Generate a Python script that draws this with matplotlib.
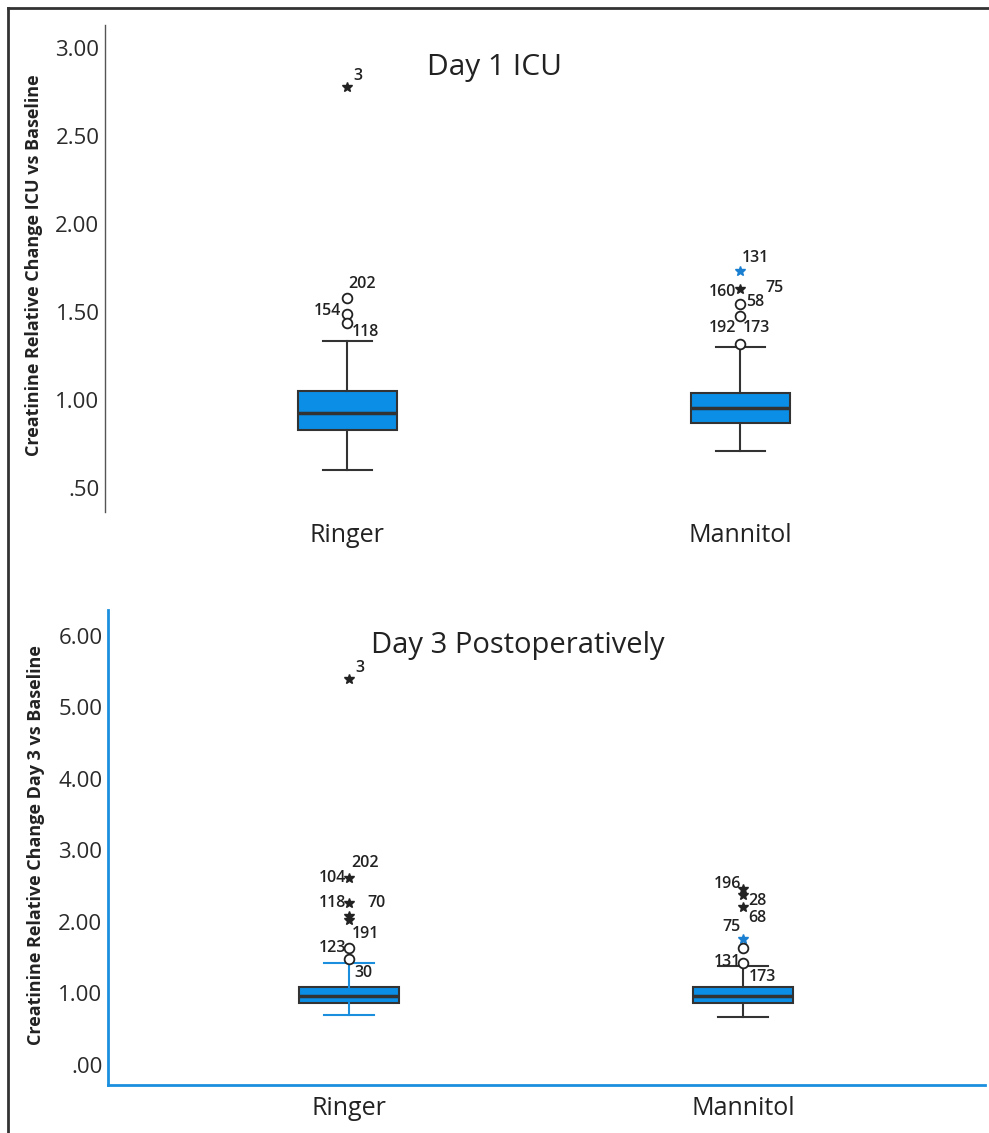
import matplotlib
matplotlib.use("Agg")
import matplotlib.pyplot as plt
from matplotlib.lines import Line2D

plt.rcParams['font.family'] = ['Open Sans', 'DejaVu Sans']

# ---------------- data ----------------
groups = ["Ringer", "Mannitol"]

# Day 1 ICU box statistics (Ringer, Mannitol)
d1_q1 = [0.83, 0.87]
d1_med = [0.926, 0.955]
d1_q3 = [1.05, 1.04]
d1_whislo = [0.60, 0.71]
d1_whishi = [1.335, 1.30]

# Day 1 outliers: group index, value, marker kind, label
d1_out_group = [0, 0, 0, 0, 1, 1, 1, 1, 1]
d1_out_value = [2.78, 1.58, 1.49, 1.44, 1.73, 1.63, 1.545, 1.48, 1.32]
d1_out_kind = ["star", "circle", "circle", "circle", "bstar", "star", "circle", "circle", "circle"]
d1_labels = ["3", "202", "154", "118", "131", "160", "58", "", "192"]
d1_extra_labels = [(1, 1.63, "75"), (1, 1.32, "173")]

# Day 3 box statistics
d3_q1 = [0.867, 0.87]
d3_med = [0.965, 0.965]
d3_q3 = [1.09, 1.09]
d3_whislo = [0.70, 0.67]
d3_whishi = [1.43, 1.385]

d3_out_group = [0, 0, 0, 0, 0, 0, 0, 1, 1, 1, 1, 1, 1]
d3_out_value = [5.40, 2.615, 2.27, 2.08, 2.03, 1.64, 1.48,
                2.46, 2.38, 2.21, 1.76, 1.64, 1.43]
d3_out_kind = ["star", "star", "star", "star", "star", "circle", "circle",
               "star", "star", "star", "bstar", "circle", "circle"]
d3_labels = ["3", "104", "118", "", "", "191", "123",
             "196", "", "28", "75", "68", "131"]
d3_extra_labels = [(0, 2.615, "202"), (0, 2.27, "70"), (0, 1.48, "30"), (1, 1.43, "173")]

# label offsets in points (dx, dy) -- layout only
d1_label_off = [(8, 8), (11, 10), (-14, 2), (13, -6.5), (11, 10), (-13, -2), (11, 1.5), (0, 0), (-13, 11.5)]
d1_extra_off = [(25, 1), (11.5, 11)]
d3_label_off = [(8, 8), (-12, 0), (-12, 0), (0, 0), (0, 0), (11.5, 10), (-12, 8),
                (-11.5, 3.5), (0, 0), (10, 4), (-8, 9), (10, 21), (-11.5, 0.5)]
d3_extra_off = [(11.5, 11), (20, 0), (10, -10), (14, -10)]

# ---------------- style ----------------
BOX_BLUE = "#0a8ee6"
EDGE = "#333333"
AX_BLUE = "#1b8fde"
W, H = 989, 1133

fig = plt.figure(figsize=(W / 100, H / 100), dpi=100)


def rect(x0, y0, x1, y1):
    return [x0 / W, 1 - y1 / H, (x1 - x0) / W, (y1 - y0) / H]


ax1 = fig.add_axes(rect(105, 25, 985, 512))
ax2 = fig.add_axes(rect(108, 610, 985, 1085))


def draw_panel(ax, q1, med, q3, lo, hi, whisk_colors, og, ov, ok, labels, offs, extra, extra_off):
    for i in range(len(groups)):
        st = dict(q1=q1[i], med=med[i], q3=q3[i], whislo=lo[i], whishi=hi[i], fliers=[])
        wc = whisk_colors[i]
        ax.bxp([st], positions=[i + 1], widths=0.252, patch_artist=True, showfliers=False,
               boxprops=dict(facecolor=BOX_BLUE, edgecolor=EDGE, linewidth=1.5),
               medianprops=dict(color=EDGE, linewidth=2.5),
               whiskerprops=dict(color=wc, linewidth=1.5),
               capprops=dict(color=wc, linewidth=1.5),
               capwidths=0.125)
    for g, v, k, lab, off in zip(og, ov, ok, labels, offs):
        x = g + 1
        if k == "circle":
            ax.plot(x, v, marker="o", ms=7, mfc="white", mec="#222222", mew=1.3, zorder=5)
        elif k == "star":
            ax.plot(x, v, marker="*", ms=7, mfc="#222222", mec="#222222", zorder=5)
        else:
            ax.plot(x, v, marker="*", ms=7, mfc="#1a7fd0", mec="#1a7fd0", zorder=5)
        if lab:
            ax.annotate(lab, (x, v), xytext=off, textcoords="offset points",
                        ha="center", va="center", fontsize=11.5, color="#222222",
                        fontweight="semibold")
    for (g, v, lab), off in zip(extra, extra_off):
        ax.annotate(lab, (g + 1, v), xytext=off, textcoords="offset points",
                    ha="center", va="center", fontsize=11.5, color="#222222",
                    fontweight="semibold")


draw_panel(ax1, d1_q1, d1_med, d1_q3, d1_whislo, d1_whishi, [EDGE, EDGE],
           d1_out_group, d1_out_value, d1_out_kind, d1_labels, d1_label_off,
           d1_extra_labels, d1_extra_off)
draw_panel(ax2, d3_q1, d3_med, d3_q3, d3_whislo, d3_whishi, [AX_BLUE, EDGE],
           d3_out_group, d3_out_value, d3_out_kind, d3_labels, d3_label_off,
           d3_extra_labels, d3_extra_off)

# axes 1
ax1.set_xlim(0.384, 2.623)
ax1.set_ylim(0.364, 3.13)
ax1.set_yticks([0.5, 1.0, 1.5, 2.0, 2.5, 3.0])
ax1.set_yticklabels([".50", "1.00", "1.50", "2.00", "2.50", "3.00"])
for s in ["top", "right", "bottom"]:
    ax1.spines[s].set_visible(False)
ax1.spines["left"].set_color("#555555")
ax1.spines["left"].set_linewidth(1.0)

# axes 2
ax2.set_xlim(0.388, 2.614)
ax2.set_ylim(-0.28, 6.36)
ax2.set_yticks([0, 1, 2, 3, 4, 5, 6])
ax2.set_yticklabels([".00", "1.00", "2.00", "3.00", "4.00", "5.00", "6.00"])
for s in ["top", "right"]:
    ax2.spines[s].set_visible(False)
for s in ["left", "bottom"]:
    ax2.spines[s].set_color(AX_BLUE)
    ax2.spines[s].set_linewidth(2.0)

for ax in (ax1, ax2):
    ax.set_xticks([1, 2])
    ax.set_xticklabels(groups)
    ax.tick_params(axis="x", length=0, pad=8, labelsize=18, labelcolor="#222222")
    ax.tick_params(axis="y", length=0, pad=4, labelsize=16, labelcolor="#2a2a2a")
    ax.set_facecolor("white")

ax1.set_ylabel("Creatinine Relative Change ICU vs Baseline", fontsize=13,
               fontweight="bold", color="#222222")
ax1.yaxis.set_label_coords(-0.071, 0.507)
ax2.set_ylabel("Creatinine Relative Change Day 3 vs Baseline", fontsize=13,
               fontweight="bold", color="#222222")
ax2.yaxis.set_label_coords(-0.072, 0.505)

ax1.text(0.443, 0.912, "Day 1 ICU", transform=ax1.transAxes, ha="center", va="center",
         fontsize=21.5, color="#222222")
ax2.text(0.4675, 0.926, "Day 3 Postoperatively", transform=ax2.transAxes, ha="center",
         va="center", fontsize=21, color="#222222")

# outer frame lines (top and left)
fig.add_artist(Line2D([8 / W, 1.0], [1 - 8 / H, 1 - 8 / H], transform=fig.transFigure,
                      color="#333333", lw=2))
fig.add_artist(Line2D([8 / W, 8 / W], [0.0, 1 - 8 / H], transform=fig.transFigure,
                      color="#333333", lw=2))

fig.savefig("out.png", dpi=100, facecolor="white")
